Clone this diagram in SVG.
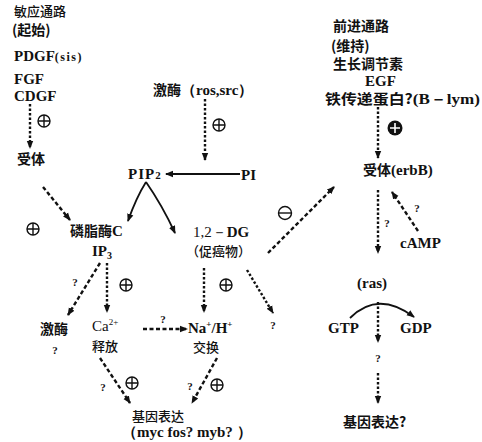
<svg xmlns="http://www.w3.org/2000/svg" xmlns:xlink="http://www.w3.org/1999/xlink" width="482" height="442" viewBox="0 0 482 442">
<style>
.cj{font-family:"Noto Sans CJK SC","Noto Sans",sans-serif;font-weight:700;font-size:14px;fill:#111}
.cjn{font-family:"Noto Sans CJK SC","Noto Sans",sans-serif;font-weight:500;font-size:13px;fill:#111}
.lt{font-family:"Liberation Serif","Times New Roman",serif;font-weight:700;font-size:15px;fill:#111}
.ltn{font-family:"Liberation Serif","Times New Roman",serif;font-weight:400;font-size:15px;fill:#111}
.q{font-family:"Liberation Serif",serif;font-weight:700;font-size:11px;fill:#111}
.dot{fill:none;stroke:#111;stroke-width:2.4;stroke-dasharray:2.5 2}
.dash{fill:none;stroke:#111;stroke-width:2.4;stroke-dasharray:4 2.5}
.sol{fill:none;stroke:#111;stroke-width:1.8}
.sign{fill:none;stroke:#111;stroke-width:1.4}
</style>
<defs>
<marker id="ah" markerWidth="8" markerHeight="8" refX="7" refY="4" orient="auto" markerUnits="userSpaceOnUse">
<path d="M0,0.8 L8,4 L0,7.2 Z" fill="#111"/>
</marker>
<g id="plus"><circle r="6" class="sign"/><path d="M-6,0H6M0,-6V6" class="sign"/></g>
<g id="minus"><circle r="6.5" class="sign"/><path d="M-6.5,0H6.5" class="sign"/></g>
</defs>
<rect width="482" height="442" fill="#fff"/>

<g id="connectors">
<path class="dot" d="M30,104 V148" marker-end="url(#ah)"/>
<path class="dash" d="M43,187 L70,220" marker-end="url(#ah)"/>
<path class="dot" d="M205,99 V160" marker-end="url(#ah)"/>
<path class="sol" d="M240,174 H166" marker-end="url(#ah)"/>
<path class="sol" d="M146,182 Q136,198 128,221" marker-end="url(#ah)"/>
<path class="sol" d="M146,182 Q162,205 175,233" marker-end="url(#ah)"/>
<path class="dash" d="M268,253 L334,187" marker-end="url(#ah)"/>
<path class="dot" d="M378,107 V158" marker-end="url(#ah)"/>
<path class="dot" d="M378,190 V253" marker-end="url(#ah)"/>
<path class="dash" d="M418,231 L392,192" marker-end="url(#ah)"/>
<path class="sol" d="M350,318 Q378,290 414,317" marker-end="url(#ah)"/>
<path class="dot" d="M378,302 V342" marker-end="url(#ah)"/>
<path class="dot" d="M378,373 V403" marker-end="url(#ah)"/>
<path class="dash" d="M100,263 L68,315" marker-end="url(#ah)"/>
<path class="dot" d="M107,263 V312" marker-end="url(#ah)"/>
<path class="dash" d="M143,329 H187" marker-end="url(#ah)"/>
<path class="dot" d="M204,268 V312" marker-end="url(#ah)"/>
<path class="dot" d="M247,270 L273,313" marker-end="url(#ah)"/>
<path class="dash" d="M100,358 L130,403" marker-end="url(#ah)"/>
<path class="dash" d="M217,358 L192,403" marker-end="url(#ah)"/>
</g>

<g id="signs">
<use xlink:href="#plus" x="44" y="121"/>
<use xlink:href="#plus" x="33" y="229"/>
<use xlink:href="#plus" x="219" y="125"/>
<use xlink:href="#minus" x="285" y="213"/>
<g transform="translate(395,128)"><circle r="7.5" fill="#111"/><path d="M-5,0H5M0,-5V5" stroke="#fff" stroke-width="1.6"/></g>
<use xlink:href="#plus" x="126" y="285"/>
<use xlink:href="#plus" x="226" y="285"/>
<use xlink:href="#plus" x="132" y="383"/>
<use xlink:href="#plus" x="217" y="385"/>
<text class="q" x="75" y="286" text-anchor="middle">?</text>
<text class="q" x="163" y="323" text-anchor="middle">?</text>
<text class="q" x="387" y="227" text-anchor="middle">?</text>
<text class="q" x="417" y="212" text-anchor="middle">?</text>
<text class="q" x="103" y="391" text-anchor="middle">?</text>
<text class="q" x="190" y="390" text-anchor="middle">?</text>
</g>

<g id="competence">
<text class="cjn" x="14" y="16">敏应通路</text>
<text class="cj" x="12" y="35" font-size="13">(起始)</text>
<text class="lt" x="14" y="61">PDGF<tspan font-size="12" letter-spacing="1.5">(sis)</tspan></text>
<text class="lt" x="14" y="84">FGF</text>
<text class="lt" x="14" y="101">CDGF</text>
</g>
<g id="receptor1"><text class="cj" x="17" y="164">受体</text></g>
<g id="kinase-src"><text class="cj" x="153" y="95">激酶<tspan class="lt" font-size="13">（ros,src）</tspan></text></g>
<g id="pip2"><text class="lt" x="128" y="179" font-size="16" letter-spacing="1">PIP<tspan font-size="11">2</tspan></text></g>
<g id="pi"><text class="lt" x="241" y="180" font-size="16">PI</text></g>
<g id="plc"><text class="cj" x="70" y="236">磷脂酶<tspan class="lt">C</tspan></text></g>
<g id="ip3"><text class="lt" x="92" y="256">IP<tspan font-size="10" dy="3">3</tspan></text></g>
<g id="dg">
<text class="ltn" x="193" y="237">1,2－<tspan font-weight="700">DG</tspan></text>
<text class="cjn" x="186" y="256">（促癌物）</text>
</g>
<g id="progression">
<text class="cj" x="333" y="31" font-size="13">前进通路</text>
<text class="cj" x="331" y="51" font-size="13">(维持)</text>
<text class="cj" x="333" y="69" font-size="13">生长调节素</text>
<text class="lt" x="365" y="86" font-size="14">EGF</text>
<text class="cj" x="325" y="104" font-size="12" textLength="155" lengthAdjust="spacingAndGlyphs">铁传递蛋白?<tspan class="lt" font-size="14">(B－lym)</tspan></text>
</g>
<g id="receptor2"><text class="cj" x="363" y="175">受体<tspan class="lt" font-size="13">(erbB)</tspan></text></g>
<g id="camp"><text class="lt" x="400" y="248" font-size="14">cAMP</text></g>
<g id="ras"><text class="lt" x="357" y="288" font-size="13">(ras)</text></g>
<g id="gtp"><text class="lt" x="328" y="333">GTP</text></g>
<g id="gdp"><text class="lt" x="400" y="333">GDP</text></g>
<g id="q-ras"><text class="q" x="378" y="362" text-anchor="middle">?</text></g>
<g id="gene2"><text class="cj" x="343" y="427">基因表达?</text></g>
<g id="kinase2">
<text class="cj" x="40" y="334">激酶</text>
<text class="q" x="55" y="354" font-size="12" text-anchor="middle">?</text>
</g>
<g id="ca">
<text class="ltn" x="92" y="331">Ca<tspan font-size="9" dy="-6">2+</tspan></text>
<text class="cjn" x="92" y="351">释放</text>
</g>
<g id="nah">
<text class="lt" x="188" y="333">Na<tspan font-size="9" dy="-6">+</tspan><tspan dy="6">/H</tspan><tspan font-size="9" dy="-6">+</tspan></text>
<text class="cjn" x="193" y="352">交换</text>
</g>
<g id="q-dg"><text class="q" x="273" y="329" text-anchor="middle">?</text></g>
<g id="gene1">
<text class="cjn" x="132" y="421">基因表达</text>
<text class="lt" x="122" y="437" font-size="12">（myc fos?  myb?  ）</text>
</g>
</svg>
